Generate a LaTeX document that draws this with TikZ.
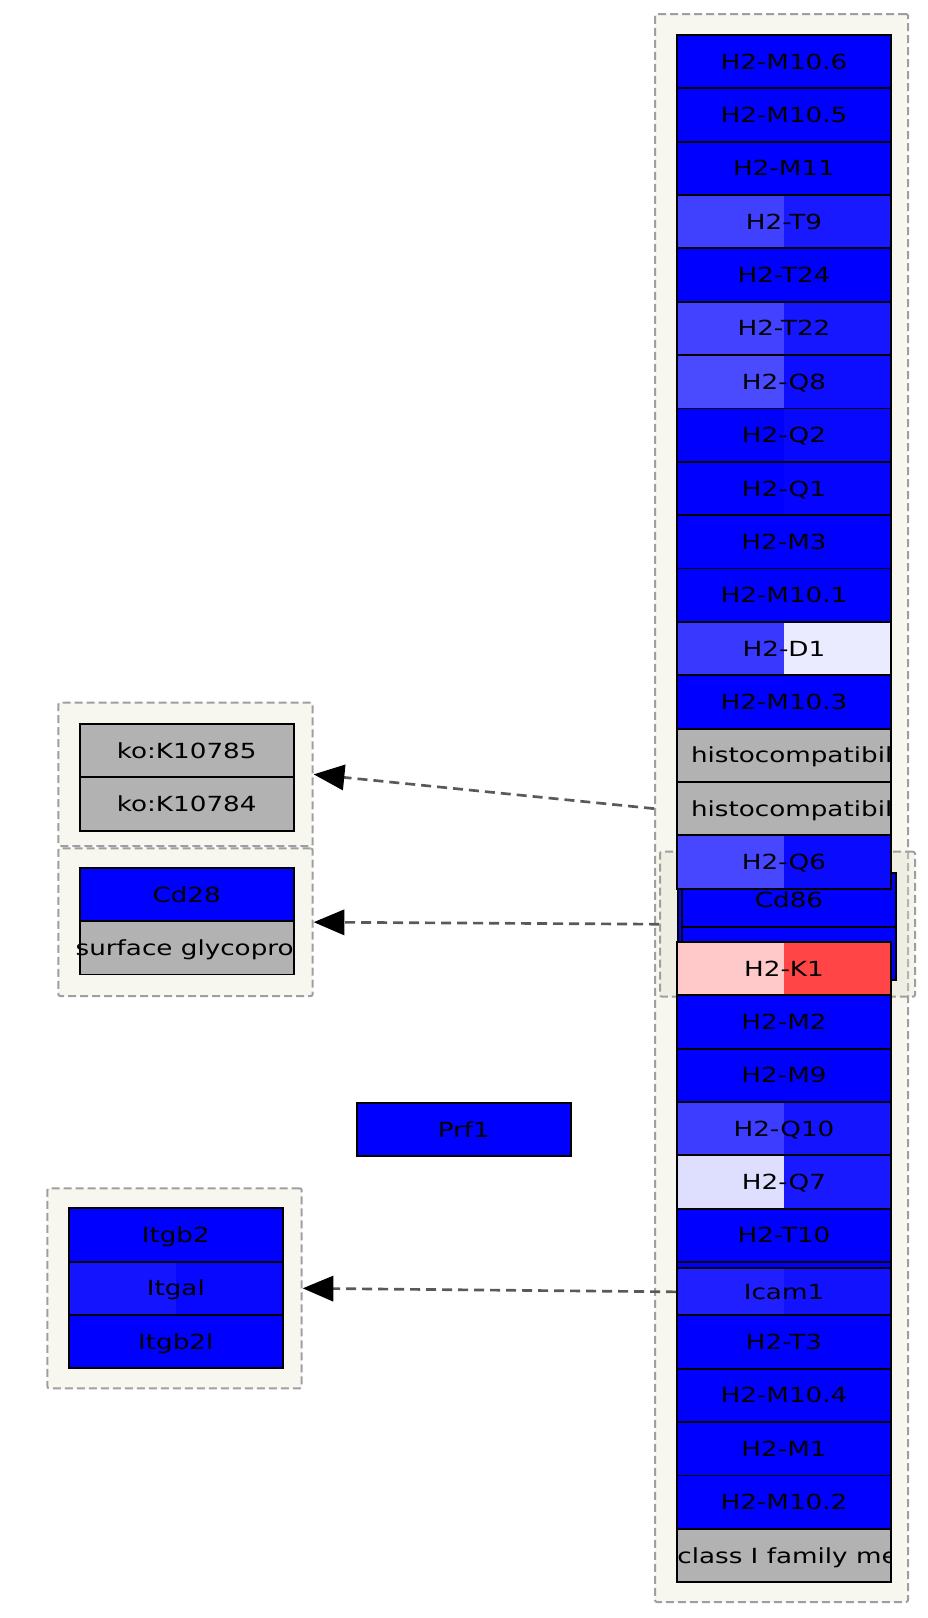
\documentclass[tikz,border=0pt]{standalone}
\usepackage{fontspec}
\usepackage{tikz}
\usetikzlibrary{arrows.meta}
\newfontfamily\genefont[FakeStretch=1.26]{DejaVu Sans}
\newcommand\genetext{\genefont\fontsize{15.6pt}{18pt}\selectfont}
\definecolor{groupbg}{HTML}{F7F7F0}
\definecolor{groupshade}{HTML}{E0E0C8}
\tikzset{
  gene/.style 2 args={
    rectangle,
    draw=black,
    line width=1.4pt,
    fill=#2,
    minimum width=160.5pt,
    minimum height=40pt,
    inner sep=0pt,
    text height=11.25pt,
    text depth=0pt,
    font=\genetext,
    path picture={\fill[#1] (path picture bounding box.south west) rectangle (path picture bounding box.north);}
    },
  longlabel/.style={
    anchor=west,
    inner sep=0pt,
    text height=11.25pt,
    text depth=0pt,
    font=\genetext
    },
  group/.style={
    rectangle,
    rounded corners=1.5pt,
    draw=gray!75,
    line width=1.5pt,
    dash pattern=on 6pt off 3pt,
    fill=groupbg,
    inner sep=0pt
    },
  relation/.style={
    draw=black!65,
    line width=2pt,
    dash pattern=on 7.5pt off 4.5pt,
    -{Triangle[length=23pt, width=19pt, color=black]}
    },
}

\begin{document}
\begin{tikzpicture}[
            x = 0.75pt, % one pixel
            y = -0.75pt,
            node distance = 40pt % one row
        ]
  \useasboundingbox (0,0) rectangle (928,1618);

  % groups
  \node[group, minimum width=189.75pt, minimum height=1191pt] (mhcgrp) at (781.5, 808) {};
  \node[group, fill=groupshade, fill opacity=0.35, minimum width=191.25pt, minimum height=108.75pt] (cd86grp) at (787.5, 924.2) {};

  \node[group, minimum width=190.8pt, minimum height=107.5pt] (kogrp) at (185.5, 774.35) {};
  \node[gene={gray!60}{gray!60}] (ko1) at (186.7, 750.7) {ko:K10785};
  \node[gene={gray!60}{gray!60}] (ko2) [below of=ko1] {ko:K10784};

  \node[group, minimum width=190.8pt, minimum height=110.8pt] (cd28grp) at (185.5, 922.15) {};
  \node[gene={blue}{blue}] (cd28) at (186.7, 894.5) {Cd28};
  \node[gene={gray!60}{gray!60}] (surf) [below of=cd28] {};
  \begin{scope}
    \clip ([xshift=-3pt]surf.south west) rectangle (surf.north east);
    \node[longlabel] (surflab) at ([xshift=-2.5pt]surf.west) {surface glycopro};
  \end{scope}

  \node[gene={blue}{blue}] (prf1) at (463.85, 1129.7) {Prf1};

  \node[group, minimum width=190.8pt, minimum height=150pt] (itgrp) at (174.5, 1288.3) {};
  \node[gene={blue}{blue}] (itgb2) at (175.8, 1235) {Itgb2};
  \node[gene={blue!92}{blue!97}] (itgal) [below of=itgb2] {Itgal};
  \node[gene={blue}{blue}] (itgb2l) [below of=itgal] {Itgb2l};

  % Cd86 group, mostly under the column
  \node[gene={blue}{blue}, minimum width=158.8pt, minimum height=60pt] (cdback) at (784.2, 920) {};
  \node[gene={blue}{blue}] (cd86) at (789, 899.9) {Cd86};
  \node[gene={blue}{blue}] (cd86b) [below of=cd86] {};

  % MHC column
  \foreach \i/\gname/\lc/\rc in {0/H2-M10.6/blue/blue, 1/H2-M10.5/blue/blue, 2/H2-M11/blue/blue,
      3/H2-T9/blue!75/blue!90, 4/H2-T24/blue/blue, 5/H2-T22/blue!74/blue!91, 6/H2-Q8/blue!71/blue!95,
      7/H2-Q2/blue/blue!97, 8/H2-Q1/blue/blue!98, 9/H2-M3/blue/blue, 10/H2-M10.1/blue/blue,
      11/H2-D1/blue!78/blue!8, 12/H2-M10.3/blue/blue, 15/H2-Q6/blue!72/blue!96, 17/H2-K1/red!21/red!73,
      18/H2-M2/blue/blue, 19/H2-M9/blue/blue, 20/H2-Q10/blue!76/blue!92, 21/H2-Q7/blue!13/blue!90,
      22/H2-T10/blue/blue, 23//blue/blue, 24/H2-T3/blue/blue, 25/H2-M10.4/blue/blue,
      26/H2-M1/blue/blue, 27/H2-M10.2/blue/blue}
    \node[gene={\lc}{\rc}] (m\i) at (784, {61.7+53.35*\i}) {\gname};

  \foreach \i/\xs/\gname in {13/11pt/histocompatibili, 14/11pt/histocompatibili, 28/0.75pt/class I family me} {
    \node[gene={gray!60}{gray!60}] (m\i) at (784, {61.7+53.35*\i}) {};
    \begin{scope}
      \clip (m\i.south west) rectangle (m\i.north east);
      \node[longlabel] (l\i) at ([xshift=\xs]m\i.west) {\gname};
    \end{scope}
  }

  \node[gene={blue!88}{blue!93}, minimum height=35.3pt] (icam) at (784, 1291.85) {Icam1};

  % relations
  \draw[relation] (mhcgrp.west |- m14) -- (kogrp.east);
  \draw[relation] (cd86grp.west) -- (cd28grp.east);
  \draw[relation] (icam.west) -- (itgrp.east);
\end{tikzpicture}
\end{document}
